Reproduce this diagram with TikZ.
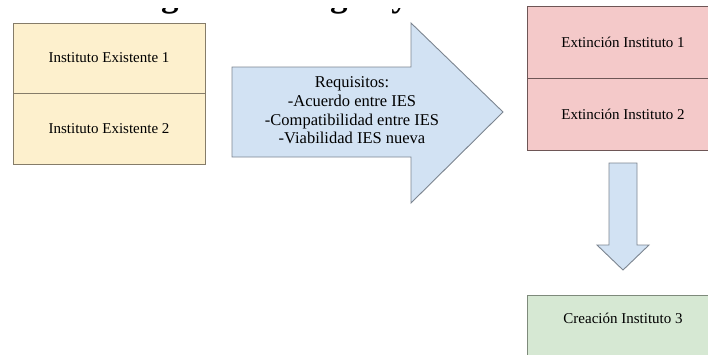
\documentclass[tikz,border=0pt]{standalone}
\usepackage{fontspec}
\setmainfont{Liberation Serif}
\begin{document}
\begin{tikzpicture}[x=1pt,y=-1pt,
  boxtext/.style={font=\fontsize{15}{18}\selectfont},
  yellowbox/.style={draw=yellowline,fill=yellowfill,line width=0.9pt,minimum width=192pt,inner sep=0pt,boxtext},
  pinkbox/.style={draw=pinkline,fill=pinkfill,line width=0.9pt,minimum width=192pt,inner sep=0pt,boxtext},
  greenbox/.style={draw=greenline,fill=greenfill,line width=0.9pt,minimum width=192pt,inner sep=0pt},
  blockarrow/.style={draw=blueline,fill=bluefill,line width=0.9pt,line join=miter}]
\definecolor{yellowfill}{HTML}{FDF0CD}
\definecolor{yellowline}{HTML}{857C69}
\definecolor{pinkfill}{HTML}{F4C9C9}
\definecolor{pinkline}{HTML}{6E5656}
\definecolor{bluefill}{HTML}{D2E2F3}
\definecolor{blueline}{HTML}{7C8590}
\definecolor{greenfill}{HTML}{D6E8D3}
\definecolor{greenline}{HTML}{7E8A7B}
\useasboundingbox (0,0) rectangle (708,354);

% heading, only its lower part shows
\begin{scope}
\clip (0,8) rectangle (708,354);
\node[anchor=base west,inner sep=0pt,font=\bfseries\fontsize{35}{38}\selectfont] (title) at (330,6)
  {\llap{Figura 3. Ori}gen y creación};
\end{scope}

% existing institutes
\node[yellowbox,minimum height=70pt] (ex1) at (109,58) {Instituto Existente 1};
\node[yellowbox,minimum height=71pt] (ex2) at (109,128.5) {Instituto Existente 2};

% requirements arrow
\coordinate (ra1) at (232,67);
\coordinate (ra2) at (411,67);
\coordinate (ra3) at (411,23);
\coordinate (ra4) at (503,112);
\coordinate (ra5) at (411,203);
\coordinate (ra6) at (411,157);
\coordinate (ra7) at (232,157);
\draw[blockarrow] (ra1) -- (ra2) -- (ra3) -- (ra4) -- (ra5) -- (ra6) -- (ra7) -- cycle;
\node[align=center,font=\fontsize{16.5}{18.7}\selectfont,inner sep=0pt] (req) at (352,110.5)
  {Requisitos:\\-Acuerdo entre IES\\-Compatibilidad entre IES\\-Viabilidad IES nueva};

% extinction of both institutes
\node[pinkbox,minimum height=72pt] (ext1) at (623,42) {Extinción Instituto 1};
\node[pinkbox,minimum height=72pt] (ext2) at (623,114) {Extinción Instituto 2};

% downward arrow
\coordinate (da1) at (609,163);
\coordinate (da2) at (637,163);
\coordinate (da3) at (637,245);
\coordinate (da4) at (649,245);
\coordinate (da5) at (623,270);
\coordinate (da6) at (597,245);
\coordinate (da7) at (609,245);
\draw[blockarrow] (da1) -- (da2) -- (da3) -- (da4) -- (da5) -- (da6) -- (da7) -- cycle;

% new institute
\node[greenbox,minimum height=72pt] (cre) at (623,331) {};
\node[boxtext,inner sep=0pt] (crelabel) at (623,318) {Creación Instituto 3};
\end{tikzpicture}
\end{document}
